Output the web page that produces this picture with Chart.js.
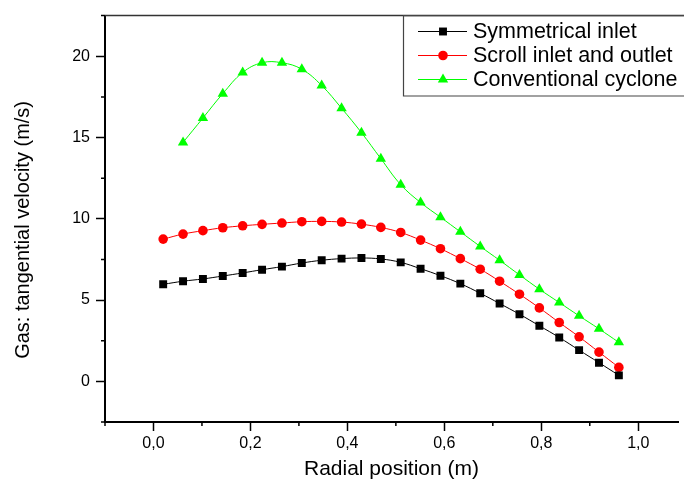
<!DOCTYPE html>
<html>
<head>
<meta charset="utf-8">
<script src="https://cdn.jsdelivr.net/npm/chart.js@4"></script>
<style>
  html, body { margin: 0; padding: 0; background: #fff; overflow: hidden; }
</style>
</head>
<body>
<canvas id="chart" width="684" height="483"></canvas>
<script>
// radial positions (m)
const radialPos = [0.02, 0.061, 0.102, 0.143, 0.184, 0.224, 0.265, 0.306, 0.347, 0.388, 0.429, 0.469,
                   0.51, 0.551, 0.592, 0.633, 0.674, 0.714, 0.755, 0.796, 0.837, 0.878, 0.919, 0.96];
const conventionalPos = [0.061, 0.102, 0.143, 0.184, 0.224, 0.265, 0.306, 0.347, 0.388, 0.429, 0.469,
                         0.51, 0.551, 0.592, 0.633, 0.674, 0.714, 0.755, 0.796, 0.837, 0.878, 0.919, 0.96];

// gas tangential velocity (m/s)
const symmetricalInlet = [5.97, 6.16, 6.30, 6.48, 6.67, 6.87, 7.06, 7.28, 7.45, 7.55, 7.59, 7.53,
                          7.32, 6.93, 6.50, 6.01, 5.42, 4.79, 4.13, 3.42, 2.70, 1.92, 1.15, 0.37];
const scrollInletOutlet = [8.75, 9.06, 9.27, 9.45, 9.57, 9.66, 9.74, 9.82, 9.84, 9.80, 9.67, 9.47,
                           9.16, 8.69, 8.16, 7.55, 6.90, 6.16, 5.36, 4.52, 3.62, 2.74, 1.80, 0.86];
const conventionalCyclone = [14.7, 16.2, 17.7, 19.0, 19.6, 19.6, 19.2, 18.2, 16.8, 15.3, 13.7,
                             12.1, 11.0, 10.1, 9.2, 8.3, 7.45, 6.55, 5.67, 4.85, 4.03, 3.23, 2.4];

const seriesNames = ['Symmetrical inlet', 'Scroll inlet and outlet', 'Conventional cyclone'];
const xTickLabels = ['0,0', '0,2', '0,4', '0,6', '0,8', '1,0'];
const yTickLabels = ['0', '5', '10', '15', '20'];

const FONT = '"Liberation Sans", Arial, sans-serif';

function toPoints(xs, ys) {
    return xs.map((x, i) => ({ x: x, y: ys[i] }));
}

function isMajorX(v) {
    return v >= -1e-6 && Math.abs(Math.round(v * 10) % 2) === 0;
}
function isMajorY(v) {
    return Math.abs(v % 5) < 1e-6;
}

// draws the short minor ticks, the top frame line and the legend box
const framePlugin = {
    id: 'frame',
    afterDraw(chart) {
        const ctx = chart.ctx;
        const area = chart.chartArea;
        const xs = chart.scales.x, ys = chart.scales.y;

        ctx.save();
        ctx.strokeStyle = '#000';
        ctx.lineWidth = 1.5;
        ctx.beginPath();
        xs.ticks.forEach(t => {
            if (isMajorX(t.value)) return;
            const px = xs.getPixelForValue(t.value);
            ctx.moveTo(px, area.bottom);
            ctx.lineTo(px, area.bottom + 4);
        });
        ys.ticks.forEach(t => {
            if (isMajorY(t.value)) return;
            const py = ys.getPixelForValue(t.value);
            ctx.moveTo(area.left, py);
            ctx.lineTo(area.left - 4, py);
        });
        ctx.stroke();

        ctx.strokeStyle = '#333';
        ctx.beginPath();
        ctx.moveTo(area.left, area.top);
        ctx.lineTo(chart.width, area.top);
        ctx.stroke();

        // legend
        const boxLeft = 403.5, boxTop = area.top, boxBottom = 96;
        ctx.strokeStyle = '#444';
        ctx.lineWidth = 1.2;
        ctx.beginPath();
        ctx.moveTo(chart.width + 2, boxTop);
        ctx.lineTo(boxLeft, boxTop);
        ctx.lineTo(boxLeft, boxBottom);
        ctx.lineTo(chart.width + 2, boxBottom);
        ctx.stroke();

        const rows = [31.5, 55.5, 79.5];
        chart.data.datasets.forEach((ds, i) => {
            const y = rows[i];
            ctx.strokeStyle = ds.borderColor;
            ctx.lineWidth = 1;
            ctx.beginPath();
            ctx.moveTo(418, y);
            ctx.lineTo(467, y);
            ctx.stroke();
            ctx.fillStyle = ds.backgroundColor;
            ctx.strokeStyle = ds.backgroundColor;
            Chart.helpers.drawPoint(ctx, {
                pointStyle: ds.pointStyle, radius: ds.pointRadius, borderWidth: 0, rotation: 0
            }, 443, y);
            ctx.fillStyle = '#000';
            ctx.font = '21.5px ' + FONT;
            ctx.textAlign = 'left';
            ctx.textBaseline = 'middle';
            ctx.fillText(ds.label, 473, y + 1);
        });
        ctx.restore();
    }
};

const ctx = document.getElementById('chart').getContext('2d');

new Chart(ctx, {
    type: 'line',
    data: {
        datasets: [
            {
                label: seriesNames[0],
                data: toPoints(radialPos, symmetricalInlet),
                borderColor: '#000000',
                backgroundColor: '#000000',
                pointStyle: 'rect',
                pointRadius: 5.6
            },
            {
                label: seriesNames[1],
                data: toPoints(radialPos, scrollInletOutlet),
                borderColor: '#ff0000',
                backgroundColor: '#ff0000',
                pointStyle: 'circle',
                pointRadius: 4.8
            },
            {
                label: seriesNames[2],
                data: toPoints(conventionalPos, conventionalCyclone),
                borderColor: '#00ff00',
                backgroundColor: '#00ff00',
                pointStyle: 'triangle',
                pointRadius: 6
            }
        ].map(ds => Object.assign(ds, {
            borderWidth: 1,
            tension: 0.4,
            pointBorderWidth: 0,
            pointHoverRadius: ds.pointRadius
        }))
    },
    options: {
        responsive: false,
        animation: false,
        layout: { padding: { top: 14, right: 0, left: 0, bottom: 0 } },
        plugins: {
            legend: { display: false },
            tooltip: { enabled: false }
        },
        scales: {
            x: {
                type: 'linear',
                min: -0.1,
                max: 1.082,
                afterFit(scale) { scale.height = 61; },
                border: { display: true, color: '#000', width: 2 },
                grid: {
                    drawOnChartArea: false,
                    drawTicks: true,
                    tickLength: 9,
                    tickWidth: 1.5,
                    tickColor: c => isMajorX(c.tick.value) ? '#000' : 'rgba(0,0,0,0)'
                },
                ticks: {
                    stepSize: 0.1,
                    includeBounds: false,
                    autoSkip: false,
                    maxRotation: 0,
                    padding: 3,
                    color: '#000',
                    font: { family: FONT, size: 16 },
                    callback: v => isMajorX(v) ? xTickLabels[Math.round(v * 5)] : ''
                },
                title: {
                    display: true,
                    text: 'Radial position (m)',
                    color: '#000',
                    font: { family: FONT, size: 21 },
                    padding: { top: 0, bottom: 1 }
                }
            },
            y: {
                type: 'linear',
                min: -2.5,
                max: 22.5,
                afterFit(scale) { scale.width = 105; },
                border: { display: true, color: '#000', width: 2 },
                grid: {
                    drawOnChartArea: false,
                    drawTicks: true,
                    tickLength: 9,
                    tickWidth: 1.5,
                    tickColor: c => isMajorY(c.tick.value) ? '#000' : 'rgba(0,0,0,0)'
                },
                ticks: {
                    stepSize: 2.5,
                    autoSkip: false,
                    padding: 6,
                    color: '#000',
                    font: { family: FONT, size: 16 },
                    callback: v => isMajorY(v) && v >= 0 ? yTickLabels[Math.round(v / 5)] : ''
                },
                title: {
                    display: true,
                    text: 'Gas: tangential velocity (m/s)    ',
                    color: '#000',
                    font: { family: FONT, size: 20 },
                    padding: { top: 11, bottom: 0 }
                }
            }
        }
    },
    plugins: [framePlugin]
});
</script>
</body>
</html>
